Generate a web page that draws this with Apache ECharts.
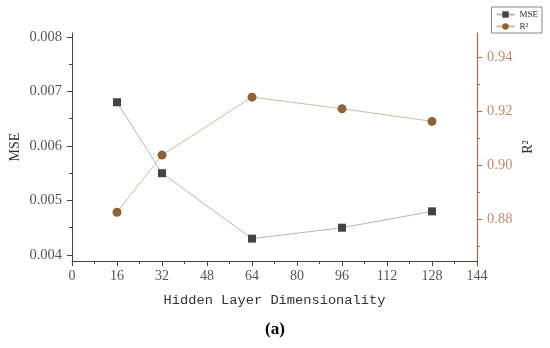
<!DOCTYPE html>
<html>
<head>
<meta charset="utf-8">
<script src="https://cdn.jsdelivr.net/npm/echarts@6/dist/echarts.min.js"></script>
<style>html,body{margin:0;padding:0;background:#fff;}#c{width:550px;height:348px;}</style>
</head>
<body>
<div id="c"></div>
<script>
const xValues = [16, 32, 64, 96, 128];
const mseValues = [0.0068, 0.0055, 0.0043, 0.0045, 0.0048];
const r2Values = [0.8825, 0.9037, 0.9252, 0.9209, 0.9162];
const mseTicks = [0.004, 0.005, 0.006, 0.007, 0.008];
const mseMinorTicks = [0.0045, 0.0055, 0.0065, 0.0075];
const r2Ticks = [0.88, 0.90, 0.92, 0.94];
const r2MinorTicks = [0.87, 0.89, 0.91, 0.93];

const serif = '"Liberation Serif", "DejaVu Serif", serif';
const grayAxis = '#444';
const brownAxis = '#a9694a';

const chart = echarts.init(document.getElementById('c'), null, {renderer: 'canvas'});
chart.setOption({
  animation: false,
  backgroundColor: '#fff',
  grid: {left: 72, right: 73, top: 33, bottom: 87, containLabel: false, outerBoundsMode: 'none'},
  legend: {
    right: 8, top: 7, orient: 'vertical',
    itemWidth: 18, itemHeight: 8, itemGap: 3,
    padding: [3, 4, 2, 4],
    borderColor: '#888', borderWidth: 1,
    textStyle: {fontFamily: serif, fontSize: 9, color: '#333'},
    data: ['MSE', 'R²']
  },
  xAxis: {
    type: 'value', min: 0, max: 144, interval: 16,
    name: 'Hidden Layer Dimensionality', nameLocation: 'middle', nameGap: 32,
    nameTextStyle: {fontFamily: '"Liberation Mono", "DejaVu Sans Mono", monospace', fontSize: 13.7, color: '#333'},
    axisLine: {lineStyle: {color: grayAxis, width: 1}},
    axisTick: {show: true, length: 5, lineStyle: {color: grayAxis}},
    minorTick: {show: true, splitNumber: 2, length: 3, lineStyle: {color: grayAxis}},
    axisLabel: {fontFamily: serif, fontSize: 14, color: '#555', margin: 8},
    splitLine: {show: false}
  },
  yAxis: [
    {
      type: 'value', position: 'left', min: 0.00389, max: 0.00807,
      name: 'MSE', nameLocation: 'middle', nameGap: 50, nameRotate: 90, nameMoveOverlap: false,
      nameTextStyle: {fontFamily: serif, fontSize: 14, color: '#333'},
      axisLine: {show: true, lineStyle: {color: grayAxis}},
      axisTick: {show: true, length: 5, customValues: mseTicks, lineStyle: {color: grayAxis}},
      axisLabel: {customValues: mseTicks, formatter: v => v.toFixed(3), fontFamily: serif, fontSize: 14.5, color: '#555', margin: 10},
      splitLine: {show: false}
    },
    {
      type: 'value', position: 'right', min: 0.8644, max: 0.949,
      name: 'R²', nameLocation: 'middle', nameGap: 44, nameRotate: 90, nameMoveOverlap: false,
      nameTextStyle: {fontFamily: serif, fontSize: 14, color: '#333'},
      axisLine: {show: true, lineStyle: {color: brownAxis, width: 1.2}},
      axisTick: {show: true, length: 5, customValues: r2Ticks, lineStyle: {color: brownAxis}},
      axisLabel: {customValues: r2Ticks, formatter: v => v.toFixed(2), fontFamily: serif, fontSize: 14.5, color: '#c08a70', margin: 10},
      splitLine: {show: false}
    },
    {
      type: 'value', position: 'left', min: 0.00389, max: 0.00807,
      axisLine: {show: false},
      axisTick: {show: true, length: 3, customValues: mseMinorTicks, lineStyle: {color: grayAxis}},
      axisLabel: {show: false},
      splitLine: {show: false}
    },
    {
      type: 'value', position: 'right', min: 0.8644, max: 0.949,
      axisLine: {show: false},
      axisTick: {show: true, length: 3, customValues: r2MinorTicks, lineStyle: {color: brownAxis}},
      axisLabel: {show: false},
      splitLine: {show: false}
    }
  ],
  series: [
    {
      name: 'MSE', type: 'line', yAxisIndex: 0,
      data: xValues.map((x, i) => [x, mseValues[i]]),
      symbol: 'rect', symbolSize: 8,
      itemStyle: {color: '#444'},
      lineStyle: {color: '#bdb5ae', width: 1}
    },
    {
      name: 'R²', type: 'line', yAxisIndex: 1,
      data: xValues.map((x, i) => [x, r2Values[i]]),
      symbol: 'circle', symbolSize: 9,
      itemStyle: {color: '#8b6536'},
      lineStyle: {color: '#d6b8a4', width: 1}
    }
  ],
  graphic: [{
    type: 'text', left: 'center', top: 321,
    style: {text: '(a)', fontFamily: serif, fontSize: 17, fontWeight: 'bold', fill: '#000'}
  }]
});
</script>
</body>
</html>
